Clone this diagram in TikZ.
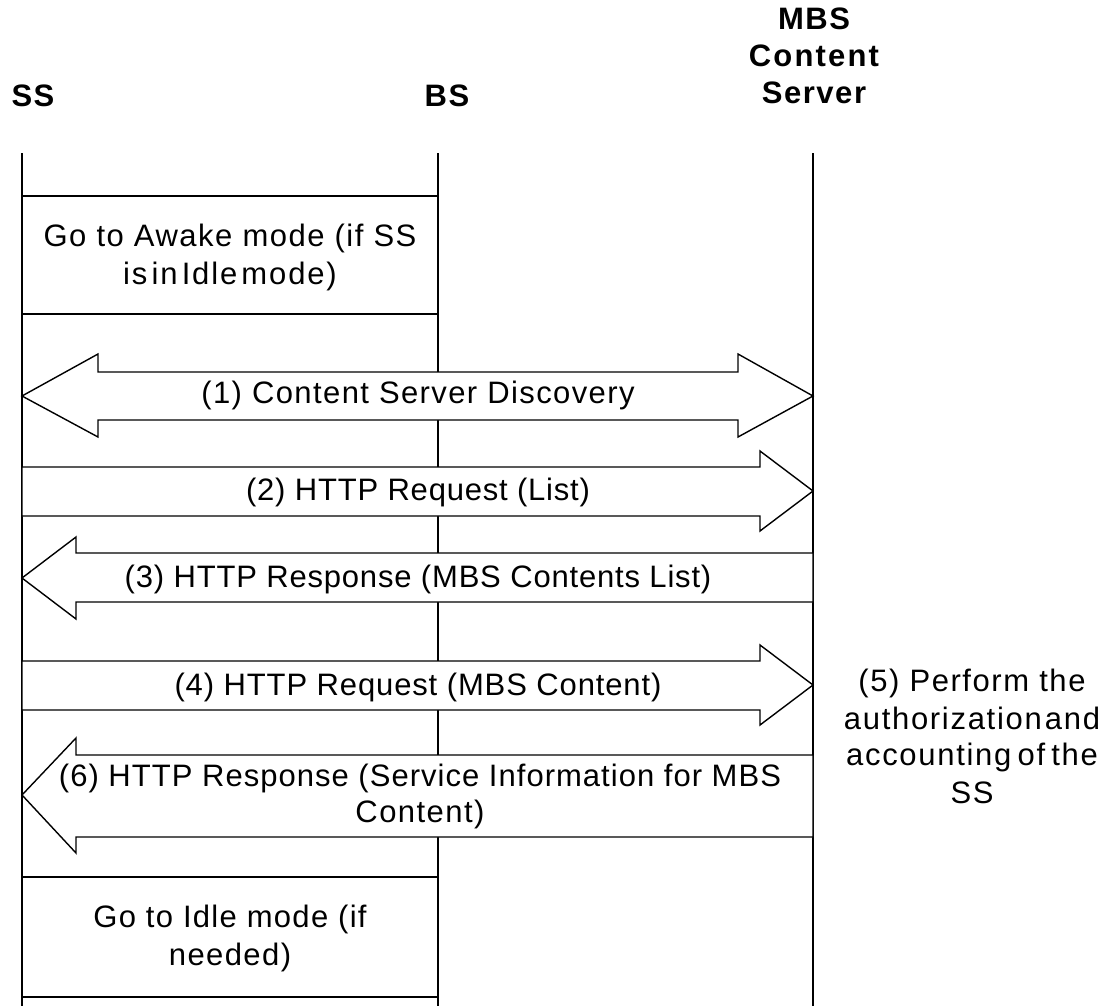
\documentclass[tikz,border=0pt]{standalone}
\usepackage{fontspec}
\setmainfont{Liberation Sans}
\newcommand\ls[3][1]{{\addfontfeature{LetterSpace=#2}\spaceskip=#1\fontdimen2\font\relax #3}}
\tikzset{
  life/.style={draw=black,line width=1.4pt},
  msgarrow/.style={draw=black,fill=white,line width=1.4pt,line join=miter},
  lab/.style={font=\fontsize{31}{38}\selectfont,align=center,inner sep=0pt,anchor=base},
  head/.style={font=\bfseries\fontsize{31}{37}\selectfont,align=center,inner sep=0pt,anchor=base},
}
\begin{document}
\begin{tikzpicture}[x=1pt,y=-1pt]
\useasboundingbox (0,0) rectangle (1108,1006);
\fill[white] (0,0) rectangle (1108,1006);
\node[head] (ss) at (33,107) {\ls{5}{SS}};
\node[head] (bs) at (447,107) {\ls{5}{BS}};
\node[head] (mbs) at (814,104) {\ls{5}{MBS}\\\ls{7}{Content}\\\ls{5}{Server}};
\coordinate (a1) at (22,153); \coordinate (a2) at (22,1006);
\coordinate (b1) at (438,153); \coordinate (b2) at (438,1006);
\coordinate (c1) at (813,153); \coordinate (c2) at (813,1006);
\draw[life] (a1) -- (a2);
\draw[life] (b1) -- (b2);
\draw[life] (c1) -- (c2);
\draw[msgarrow] (22,196) rectangle (438,314);
\node[lab] (awake) at (230,284) {\ls{4.8}{Go to Awake mode (if SS}\\\ls[0.4]{6}{is in Idle mode)}};
\draw[msgarrow] (22,877) rectangle (438,997);
\node[lab] (idle) at (230,965) {\ls{4.2}{Go to Idle mode (if}\\\ls{4.6}{needed)}};
\draw[msgarrow] (22,396) -- (98,354) -- (98,372) -- (738,372) -- (738,354) -- (813,396) -- (738,437) -- (738,420) -- (98,420) -- (98,437) -- cycle;
\node[lab] (m1) at (418,403) {\ls{4.5}{(1) Content Server Discovery}};
\draw[msgarrow] (22,467) -- (760,467) -- (760,451) -- (813,491) -- (760,531) -- (760,516) -- (22,516) -- cycle;
\node[lab] (m2) at (418,500) {\ls{2.5}{(2) HTTP Request (List)}};
\draw[msgarrow] (813,553) -- (76,553) -- (76,537) -- (22,578) -- (76,619) -- (76,602) -- (813,602) -- cycle;
\node[lab] (m3) at (418,587) {\ls{2.6}{(3) HTTP Response (MBS Contents List)}};
\draw[msgarrow] (22,661) -- (760,661) -- (760,645) -- (813,685) -- (760,725) -- (760,710) -- (22,710) -- cycle;
\node[lab] (m4) at (418,695) {\ls{2.8}{(4) HTTP Request (MBS Content)}};
\draw[msgarrow] (813,755) -- (76,755) -- (76,738) -- (22,795) -- (76,853) -- (76,837) -- (813,837) -- cycle;
\node[lab] (m6) at (420,822) {\ls{3.3}{(6) HTTP Response (Service Information for MBS}\\[-2pt]\ls{4.7}{Content)}};
\node[lab] (m5) at (972,803) {\ls{5}{(5) Perform the}\\\ls[0.3]{5.5}{authorization and}\\[-2pt]\ls[0.6]{5.5}{accounting of the}\\\ls{5}{SS}};
\end{tikzpicture}
\end{document}
